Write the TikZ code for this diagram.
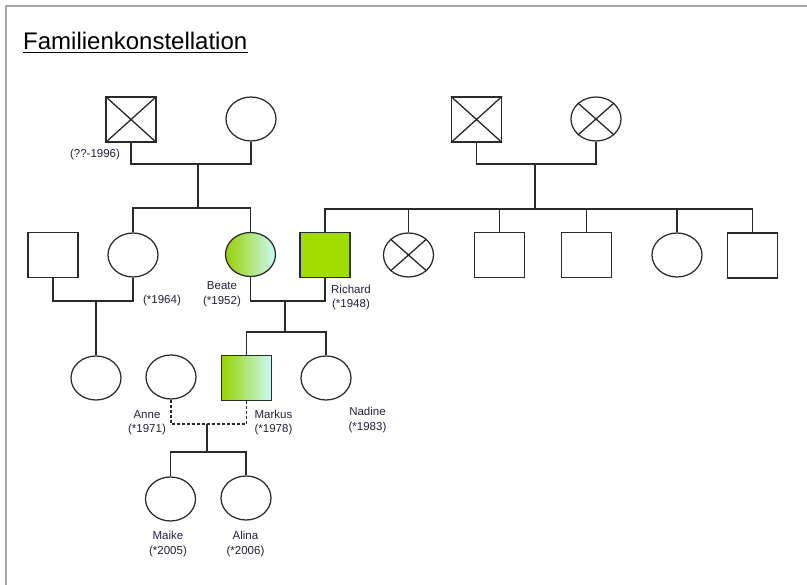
\documentclass[tikz,border=0pt]{standalone}
\usepackage{fontspec}
\setmainfont{Liberation Sans}
\usetikzlibrary{shapes.geometric}
\definecolor{lineC}{HTML}{2A2A2A}
\definecolor{frameC}{HTML}{A8A8A8}
\definecolor{txtC}{HTML}{22223A}
\definecolor{greenC}{HTML}{A0DC00}
\definecolor{gradL}{HTML}{96D200}
\definecolor{gradR}{HTML}{CCF8FA}
\tikzset{
  person/.style={draw=lineC, line width=1.25pt, inner sep=0pt, fill=white},
  male/.style={person, rectangle, minimum width=50pt, minimum height=45pt},
  female/.style={person, ellipse, minimum width=50pt, minimum height=44pt},
  index/.style={left color=gradL, right color=gradR},
  rel/.style={draw=lineC, line width=1.3pt},
  relx/.style={rel, dash pattern=on 3pt off 2pt},
  lbl/.style={inner sep=0pt, text=txtC, align=center, font=\fontsize{11.5}{14.5}\selectfont},
  frameline/.style={draw=frameC, line width=1.5pt}
}
\begin{document}
\begin{tikzpicture}[x=1pt, y=-1pt]
\useasboundingbox (0,0) rectangle (807,585);
% frame
\coordinate (fr1) at (6,585);
\coordinate (fr2) at (6,6);
\coordinate (fr3) at (807,6);
\draw[frameline] (fr1) -- (fr2) -- (fr3);
% title
\node[inner sep=0pt, anchor=base west, font=\fontsize{24}{28}\selectfont, text=black] (title) at (23,50) {Familienkonstellation};
\draw[line width=1.3pt] ([yshift=-2.2pt]title.base west) -- ([yshift=-2.2pt]title.base east);

% generation 1
\node[male] (gf1) at (131,119.5) {};
\draw[rel] (gf1.north west) -- (gf1.south east) (gf1.north east) -- (gf1.south west);
\node[female] (gm1) at (251,119) {};
\node[male] (gf2) at (476.5,119.5) {};
\draw[rel] (gf2.north west) -- (gf2.south east) (gf2.north east) -- (gf2.south west);
\node[female] (gm2) at (596,119) {};
\draw[rel] (gm2.north west) -- (gm2.south east) (gm2.north east) -- (gm2.south west);
\node[lbl] (lgf1) at (95,155) {(??-1996)};

% generation 2
\node[male] (s1) at (53,255) {};
\node[female] (c1) at (133,255) {};
\node[female, index] (beate) at (250.5,254.5) {};
\node[male, fill=greenC] (richard) at (325,255) {};
\node[female] (x3) at (408.5,255) {};
\draw[rel] (x3.north west) -- (x3.south east) (x3.north east) -- (x3.south west);
\node[male] (b1) at (499.5,255) {};
\node[male] (b2) at (586.5,255) {};
\node[female] (sis) at (677,255) {};
\node[male] (b3) at (752.5,255.5) {};
\node[lbl] (lc1) at (162,301) {(*1964)};
\node[lbl] (lbeate) at (222,294) {Beate\\(*1952)};
\node[lbl] (lrichard) at (351,297.5) {Richard\\(*1948)};

% generation 3
\node[female] (e1) at (96,378) {};
\node[female] (anne) at (171,377) {};
\node[male, index] (markus) at (246.5,378) {};
\node[female] (nadine) at (326,378) {};
\node[lbl] (lanne) at (147,422.5) {Anne\\(*1971)};
\node[lbl] (lmarkus) at (273.5,422.5) {Markus\\(*1978)};
\node[lbl] (lnadine) at (367.5,420) {Nadine\\(*1983)};

% generation 4
\node[female] (maike) at (170.5,499) {};
\node[female] (alina) at (246,498) {};
\node[lbl] (lmaike) at (168,544) {Maike\\(*2005)};
\node[lbl] (lalina) at (245.5,544) {Alina\\(*2006)};

% connectors
\coordinate (p1) at (198,164);
\coordinate (q1) at (198,208);
\draw[rel] (gf1.south) |- (p1) -| (gm1.south);
\draw[rel] (p1) -- (q1);
\draw[rel] (c1.north) |- (q1) -| (beate.north);

\coordinate (p2) at (535,164);
\coordinate (q2) at (535,209);
\draw[rel] (gf2.south) |- (p2) -| (gm2.south);
\draw[rel] (p2) -- (q2);
\draw[rel] (richard.north) |- (q2) -| (b3.north);
\draw[rel] (x3.north) -- (x3.north |- q2);
\draw[rel] (b1.north) -- (b1.north |- q2);
\draw[rel] (b2.north) -- (b2.north |- q2);
\draw[rel] (sis.north) -- (sis.north |- q2);

\coordinate (p3) at (96,301);
\draw[rel] (s1.south) |- (p3) -| (c1.south);
\draw[rel] (p3) -- (e1.north);

\coordinate (p4) at (285,301);
\coordinate (q4) at (285,332);
\draw[rel] (beate.south) |- (p4) -| (richard.south);
\draw[rel] (p4) -- (q4);
\draw[rel] (markus.north) |- (q4) -| (nadine.north);

\coordinate (p5) at (207,424);
\coordinate (q5) at (207,452);
\draw[relx] (anne.south) |- (p5) -| (markus.south);
\draw[rel] (p5) -- (q5);
\draw[rel] (maike.north) |- (q5) -| (alina.north);
\end{tikzpicture}
\end{document}
